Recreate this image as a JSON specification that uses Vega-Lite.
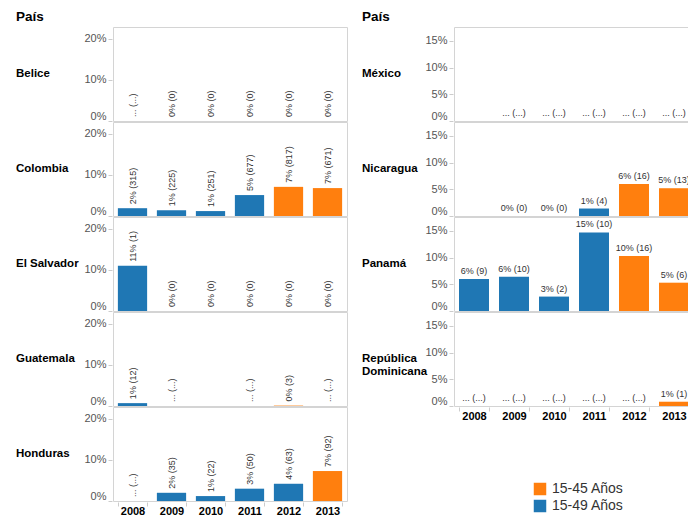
{
  "$schema": "https://vega.github.io/schema/vega-lite/v6.json",
  "padding": {"left": 15, "top": 10, "right": 0, "bottom": 0},
  "datasets": {
    "left": [
      {"pais": "Belice", "year": "2008", "grupo": "15-49 Años", "pct": 0, "label": "... (...)"},
      {"pais": "Belice", "year": "2009", "grupo": "15-49 Años", "pct": 0, "label": "0% (0)"},
      {"pais": "Belice", "year": "2010", "grupo": "15-49 Años", "pct": 0, "label": "0% (0)"},
      {"pais": "Belice", "year": "2011", "grupo": "15-49 Años", "pct": 0, "label": "0% (0)"},
      {"pais": "Belice", "year": "2012", "grupo": "15-45 Años", "pct": 0, "label": "0% (0)"},
      {"pais": "Belice", "year": "2013", "grupo": "15-45 Años", "pct": 0, "label": "0% (0)"},
      {"pais": "Colombia", "year": "2008", "grupo": "15-49 Años", "pct": 1.9, "label": "2% (315)"},
      {"pais": "Colombia", "year": "2009", "grupo": "15-49 Años", "pct": 1.4, "label": "1% (225)"},
      {"pais": "Colombia", "year": "2010", "grupo": "15-49 Años", "pct": 1.2, "label": "1% (251)"},
      {"pais": "Colombia", "year": "2011", "grupo": "15-49 Años", "pct": 5.1, "label": "5% (677)"},
      {"pais": "Colombia", "year": "2012", "grupo": "15-45 Años", "pct": 7.1, "label": "7% (817)"},
      {"pais": "Colombia", "year": "2013", "grupo": "15-45 Años", "pct": 6.8, "label": "7% (671)"},
      {"pais": "El Salvador", "year": "2008", "grupo": "15-49 Años", "pct": 11.0, "label": "11% (1)"},
      {"pais": "El Salvador", "year": "2009", "grupo": "15-49 Años", "pct": 0, "label": "0% (0)"},
      {"pais": "El Salvador", "year": "2010", "grupo": "15-49 Años", "pct": 0, "label": "0% (0)"},
      {"pais": "El Salvador", "year": "2011", "grupo": "15-49 Años", "pct": 0, "label": "0% (0)"},
      {"pais": "El Salvador", "year": "2012", "grupo": "15-45 Años", "pct": 0, "label": "0% (0)"},
      {"pais": "El Salvador", "year": "2013", "grupo": "15-45 Años", "pct": 0, "label": "0% (0)"},
      {"pais": "Guatemala", "year": "2008", "grupo": "15-49 Años", "pct": 0.7, "label": "1% (12)"},
      {"pais": "Guatemala", "year": "2009", "grupo": "15-49 Años", "pct": 0, "label": "... (...)"},
      {"pais": "Guatemala", "year": "2011", "grupo": "15-49 Años", "pct": 0, "label": "... (...)"},
      {"pais": "Guatemala", "year": "2012", "grupo": "15-45 Años", "pct": 0.1, "label": "0% (3)"},
      {"pais": "Guatemala", "year": "2013", "grupo": "15-45 Años", "pct": 0, "label": "... (...)"},
      {"pais": "Honduras", "year": "2008", "grupo": "15-49 Años", "pct": 0, "label": "... (...)"},
      {"pais": "Honduras", "year": "2009", "grupo": "15-49 Años", "pct": 2.0, "label": "2% (35)"},
      {"pais": "Honduras", "year": "2010", "grupo": "15-49 Años", "pct": 1.2, "label": "1% (22)"},
      {"pais": "Honduras", "year": "2011", "grupo": "15-49 Años", "pct": 3.0, "label": "3% (50)"},
      {"pais": "Honduras", "year": "2012", "grupo": "15-49 Años", "pct": 4.2, "label": "4% (63)"},
      {"pais": "Honduras", "year": "2013", "grupo": "15-45 Años", "pct": 7.3, "label": "7% (92)"}
    ],
    "right": [
      {"pais": "México", "year": "2009", "grupo": "15-49 Años", "pct": 0, "label": "... (...)"},
      {"pais": "México", "year": "2010", "grupo": "15-49 Años", "pct": 0, "label": "... (...)"},
      {"pais": "México", "year": "2011", "grupo": "15-49 Años", "pct": 0, "label": "... (...)"},
      {"pais": "México", "year": "2012", "grupo": "15-45 Años", "pct": 0, "label": "... (...)"},
      {"pais": "México", "year": "2013", "grupo": "15-45 Años", "pct": 0, "label": "... (...)"},
      {"pais": "Nicaragua", "year": "2009", "grupo": "15-49 Años", "pct": 0, "label": "0% (0)"},
      {"pais": "Nicaragua", "year": "2010", "grupo": "15-49 Años", "pct": 0, "label": "0% (0)"},
      {"pais": "Nicaragua", "year": "2011", "grupo": "15-49 Años", "pct": 1.4, "label": "1% (4)"},
      {"pais": "Nicaragua", "year": "2012", "grupo": "15-45 Años", "pct": 6.0, "label": "6% (16)"},
      {"pais": "Nicaragua", "year": "2013", "grupo": "15-45 Años", "pct": 5.2, "label": "5% (13)"},
      {"pais": "Panamá", "year": "2008", "grupo": "15-49 Años", "pct": 6.0, "label": "6% (9)"},
      {"pais": "Panamá", "year": "2009", "grupo": "15-49 Años", "pct": 6.4, "label": "6% (10)"},
      {"pais": "Panamá", "year": "2010", "grupo": "15-49 Años", "pct": 2.7, "label": "3% (2)"},
      {"pais": "Panamá", "year": "2011", "grupo": "15-49 Años", "pct": 14.7, "label": "15% (10)"},
      {"pais": "Panamá", "year": "2012", "grupo": "15-45 Años", "pct": 10.3, "label": "10% (16)"},
      {"pais": "Panamá", "year": "2013", "grupo": "15-45 Años", "pct": 5.3, "label": "5% (6)"},
      {"pais": "República Dominicana", "year": "2008", "grupo": "15-49 Años", "pct": 0, "label": "... (...)"},
      {"pais": "República Dominicana", "year": "2009", "grupo": "15-49 Años", "pct": 0, "label": "... (...)"},
      {"pais": "República Dominicana", "year": "2010", "grupo": "15-49 Años", "pct": 0, "label": "... (...)"},
      {"pais": "República Dominicana", "year": "2011", "grupo": "15-49 Años", "pct": 0, "label": "... (...)"},
      {"pais": "República Dominicana", "year": "2012", "grupo": "15-45 Años", "pct": 0, "label": "... (...)"},
      {"pais": "República Dominicana", "year": "2013", "grupo": "15-45 Años", "pct": 0.8, "label": "1% (1)"}
    ]
  },
  "hconcat": [
    {
      "data": {"name": "left"},
      "title": {"text": "País", "anchor": "start", "frame": "bounds", "fontSize": 13.5, "fontWeight": "bold", "color": "#000", "offset": 3},
      "spacing": -2,
      "facet": {
        "row": {
          "field": "pais", "type": "nominal",
          "sort": ["Belice", "Colombia", "El Salvador", "Guatemala", "Honduras"],
          "header": {"title": null, "labelOrient": "left", "labelAngle": 0, "labelAlign": "left", "labelBaseline": "middle", "labelPadding": -4, "labelFontSize": 11.5, "labelFontWeight": "bold", "labelColor": "#000", "labelFont": "Liberation Sans", "labelLineHeight": 13,
            "labelExpr": "[datum.value, '\u2800\u2800\u2800\u2800\u2800\u2800\u2800\u2800']"}
        }
      },
      "spec": {
        "width": 234,
        "height": 94,
        "encoding": {
          "x": {"field": "year", "type": "ordinal", "title": null,
            "scale": {"domain": ["2008", "2009", "2010", "2011", "2012", "2013"], "paddingInner": 0.25, "paddingOuter": 0.125}},
          "y": {"field": "pct", "type": "quantitative", "title": null,
            "scale": {"domain": [0, 22.9], "nice": false},
            "axis": {"values": [0, 10, 20], "labelExpr": "datum.value + '%'"}}
        },
        "layer": [
          {"mark": {"type": "bar"},
            "encoding": {"color": {"field": "grupo", "type": "nominal",
              "scale": {"domain": ["15-45 Años", "15-49 Años"], "range": ["#ff7f0e", "#1f77b4"]},
              "legend": {"title": null, "orient": "none", "legendX": 420, "legendY": 455}}}},
          {"mark": {"type": "text", "angle": 270, "align": "left", "baseline": "middle", "dx": 4, "fontSize": 9, "color": "#333"},
            "encoding": {"text": {"field": "label"}}}
        ]
      }
    },
    {
      "data": {"name": "right"},
      "title": {"text": "País", "anchor": "start", "frame": "bounds", "fontSize": 13.5, "fontWeight": "bold", "color": "#000", "offset": 3},
      "spacing": -2,
      "facet": {
        "row": {
          "field": "pais", "type": "nominal",
          "sort": ["México", "Nicaragua", "Panamá", "República Dominicana"],
          "header": {"title": null, "labelOrient": "left", "labelAngle": 0, "labelAlign": "left", "labelBaseline": "middle", "labelPadding": -9, "labelFontSize": 11.5, "labelFontWeight": "bold", "labelColor": "#000", "labelFont": "Liberation Sans", "labelLineHeight": 13,
            "labelExpr": "datum.value == 'República Dominicana' ? ['República', 'Dominicana', '\u2800\u2800\u2800\u2800\u2800\u2800\u2800\u2800'] : [datum.value, '\u2800\u2800\u2800\u2800\u2800\u2800\u2800\u2800']"}
        }
      },
      "spec": {
        "width": 240,
        "height": 94,
        "encoding": {
          "x": {"field": "year", "type": "ordinal", "title": null,
            "scale": {"domain": ["2008", "2009", "2010", "2011", "2012", "2013"], "paddingInner": 0.25, "paddingOuter": 0.125}},
          "y": {"field": "pct", "type": "quantitative", "title": null,
            "scale": {"domain": [0, 17.6], "nice": false},
            "axis": {"values": [0, 5, 10, 15], "labelExpr": "datum.value + '%'"}}
        },
        "layer": [
          {"mark": {"type": "bar"},
            "encoding": {"color": {"field": "grupo", "type": "nominal",
              "legend": {"title": null, "orient": "none", "legendX": 420, "legendY": 455}}}},
          {"mark": {"type": "text", "align": "center", "baseline": "bottom", "dy": -3, "fontSize": 9, "color": "#333"},
            "encoding": {"text": {"field": "label"}}}
        ]
      }
    }
  ],
  "spacing": 13,
  "resolve": {"scale": {"color": "shared"}, "legend": {"color": "shared"}},
  "config": {
    "font": "Liberation Sans",
    "view": {"stroke": "#d4d4d4", "strokeWidth": 1},
    "axisY": {"domain": false, "ticks": true, "tickSize": 4, "tickColor": "#ccc", "labelFontSize": 11, "labelColor": "#555", "labelPadding": 2, "labelFlush": true, "grid": false},
    "axisX": {"domain": false, "ticks": true, "tickBand": "extent", "tickSize": 4, "tickColor": "#ccc", "labelFontSize": 11, "labelFontWeight": "bold", "labelColor": "#000", "labelPadding": -1, "labelAngle": 0, "grid": false},
    "legend": {"symbolType": "square", "symbolSize": 156, "symbolStrokeWidth": 0, "labelFontSize": 14, "labelColor": "#333", "labelOffset": 5, "rowPadding": 3, "padding": 0}
  }
}
